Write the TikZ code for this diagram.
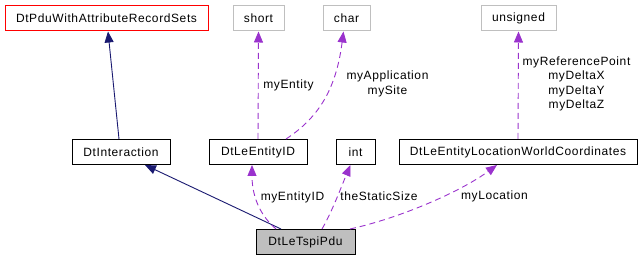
\documentclass[tikz,border=0pt]{standalone}
\usepackage{fontspec}
\newfontfamily\dotfont{Liberation Sans}[LetterSpace=5]
\usepackage{tikz}
\usetikzlibrary{arrows.meta,positioning,calc}

\definecolor{inhcol}{HTML}{191970}
\definecolor{usecol}{HTML}{9A32CD}
\definecolor{extcol}{HTML}{BFBFBF}

\tikzset{
  cls/.style={draw=black, line width=1pt, minimum height=25pt, inner sep=0pt,
    font=\dotfont\fontsize{12}{14}\selectfont},
  extcls/.style={cls, draw=extcol},
  inh/.style={draw=inhcol, line width=0.9pt, -{Triangle[length=11pt,width=9pt,fill=inhcol]}},
  uses/.style={draw=usecol, line width=0.9pt, dash pattern=on 6pt off 4pt,
    -{Triangle[length=11pt,width=9pt,fill=usecol]}},
  lbl/.style={font=\dotfont\fontsize{12}{14.5}\selectfont, align=center, inner sep=0pt}
}

\begin{document}
\begin{tikzpicture}[x=1pt,y=-1pt,>=Latex]
\useasboundingbox (0,0) rectangle (643,261);
% classes
\node[cls, draw=red, minimum width=203pt] (attr) at (106.5,18.5) {DtPduWithAttributeRecordSets};
\node[extcls, minimum width=51pt] (short) at (258.5,18.5) {short};
\node[extcls, minimum width=47pt] (char) at (346.5,18.5) {char};
\node[extcls, minimum width=75pt] (unsig) at (518.5,18.5) {unsigned};
\node[cls, minimum width=98pt] (inter) at (121,152) {DtInteraction};
\node[cls, minimum width=98pt] (eid) at (258,152) {DtLeEntityID};
\node[cls, minimum width=39pt] (int) at (355.5,152) {int};
\node[cls, minimum width=238pt] (loc) at (518,152) {DtLeEntityLocationWorldCoordinates};
\node[cls, fill=extcol, minimum width=99pt] (tspi) at (305.5,242) {DtLeTspiPdu};
% inheritance
\draw[inh] ([xshift=-2pt]inter.north) -- ([xshift=1.5pt]attr.south);
\draw[inh] ([xshift=-24.5pt]tspi.north) -- ([xshift=24pt]inter.south);
% members
\draw[uses] (eid.north) -- (short.south);
\draw[uses] ([xshift=28pt]eid.north) .. controls (318,118) and (336,90) .. ([xshift=-3pt]char.south);
\draw[uses] ([xshift=-29.5pt]tspi.north) .. controls (256,212) and (252,190) .. ([xshift=-6pt]eid.south);
\draw[uses] ([xshift=16.5pt]tspi.north) .. controls (332,212) and (342,185) .. ([xshift=-5pt]int.south);
\draw[uses] ([xshift=44.5pt]tspi.north) .. controls (400,218) and (460,192) .. ([xshift=-21pt]loc.south);
\draw[uses] (loc.north) -- (unsig.south);
% labels
\node[lbl] (lentity) at (288.5,85) {myEntity};
\node[lbl] (lappl) at (387.5,84) {myApplication\\mySite};
\node[lbl] (leid) at (292.5,197) {myEntityID};
\node[lbl] (lsize) at (379,196) {theStaticSize};
\node[lbl] (lloc) at (494.5,196) {myLocation};
\node[lbl] (lref) at (576.5,84) {myReferencePoint\\myDeltaX\\myDeltaY\\myDeltaZ};
\end{tikzpicture}
\end{document}
